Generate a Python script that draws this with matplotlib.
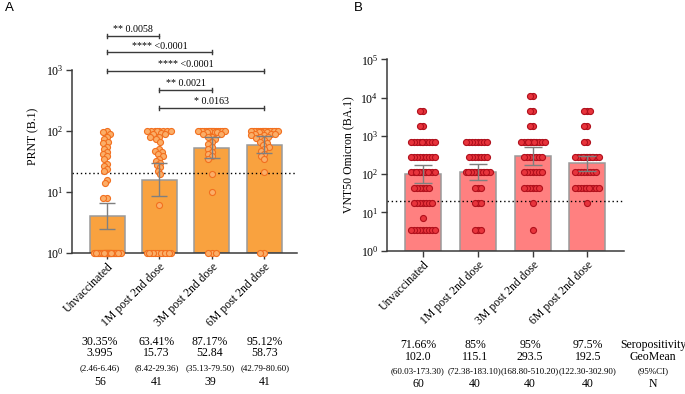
import numpy as np
import matplotlib
matplotlib.use('Agg')
import matplotlib.pyplot as plt

plt.rcParams['font.family'] = ['Liberation Serif', 'DejaVu Serif']
plt.rcParams['mathtext.fontset'] = 'stix'

# ---------------- data ----------------
groups = ['Unvaccinated', '1M post 2nd dose', '3M post 2nd dose', '6M post 2nd dose']

# Panel A: PRNT (B.1) individual titres
prnt_unvacc = [100, 95, 90, 80, 72, 66, 62, 55, 50, 45, 42, 38, 35, 28, 26, 24, 22,
               15.6, 13.7, 8, 8] + [1] * 35
prnt_1m = [100] * 8 + [92, 88, 88, 80, 80, 72, 66, 50, 47, 44, 41, 38, 35, 32, 30, 27,
                       25, 22, 19.5, 6] + [1] * 13
prnt_3m = [100] * 18 + [95] * 3 + [88] * 2 + [80] * 2 + [72, 65, 60, 55, 50, 45, 42, 38, 35,
                                                          19.5, 10, 1, 1, 1]
prnt_6m = [100] * 17 + [95] * 3 + [90] * 3 + [85] * 2 + [80] * 2 + [75, 70, 66, 62, 58, 54, 50,
                                                                     46, 42, 38, 34, 20.8, 1, 1]
prnt_values = [prnt_unvacc, prnt_1m, prnt_3m, prnt_6m]
prnt_geomean = [3.995, 15.73, 52.84, 58.73]
prnt_ci_low = [2.46, 8.42, 35.13, 42.79]
prnt_ci_high = [6.46, 29.36, 79.50, 80.60]
prnt_seropos = ['30.35%', '63.41%', '87.17%', '95.12%']
prnt_geo_txt = ['3.995', '15.73', '52.84', '58.73']
prnt_ci_txt = ['(2.46-6.46)', '(8.42-29.36)', '(35.13-79.50)', '(42.79-80.60)']
prnt_n = ['56', '41', '39', '41']
prnt_pairs = [(0, 1), (0, 2), (0, 3), (1, 2), (1, 3)]
prnt_pvals = ['** 0.0058', '**** <0.0001', '**** <0.0001', '** 0.0021', '* 0.0163']

# Panel B: VNT50 Omicron (BA.1) titre levels and counts per group
vnt_levels = [3.5, 7, 17.8, 44.7, 112, 282, 708, 1778, 4467, 11220]
vnt_counts_unvacc = [9, 1, 7, 6, 14, 9, 10, 2, 2, 0]
vnt_counts_1m = [3, 0, 3, 3, 16, 7, 8, 0, 0, 0]
vnt_counts_3m = [1, 0, 1, 6, 7, 7, 12, 2, 2, 2]
vnt_counts_6m = [0, 0, 1, 11, 8, 13, 2, 2, 3, 0]
vnt_counts = [vnt_counts_unvacc, vnt_counts_1m, vnt_counts_3m, vnt_counts_6m]
vnt_geomean = [102.0, 115.1, 293.5, 192.5]
vnt_ci_low = [60.03, 72.38, 168.80, 122.30]
vnt_ci_high = [173.30, 183.10, 510.20, 302.90]
vnt_seropos = ['71.66%', '85%', '95%', '97.5%']
vnt_geo_txt = ['102.0', '115.1', '293.5', '192.5']
vnt_ci_txt = ['(60.03-173.30)', '(72.38-183.10)', '(168.80-510.20)', '(122.30-302.90)']
vnt_n = ['60', '40', '40', '40']
row_names = ['Seropositivity', 'GeoMean', '(95%CI)', 'N']
cutoff = 20

# ---------------- helpers ----------------
W, H = 685, 394


def swarm_x(ax, xc, vals, dmin, maxhalf):
    vals = np.asarray(vals, float)
    xy = ax.transData.transform(np.column_stack([np.full(len(vals), xc), vals]))
    ypx = xy[:, 1]
    x0 = xy[0, 0]
    cand = np.arange(-maxhalf, maxhalf + 0.01, 0.5)
    cand = cand[np.argsort(np.abs(cand), kind='stable')]
    order = np.argsort(-vals, kind='stable')
    px, py = [], []
    offs = np.zeros(len(vals))
    for i in order:
        y = ypx[i]
        c = 0.0
        if px:
            PX, PY = np.array(px), np.array(py)
            near = np.abs(PY - y) < dmin
            if near.any():
                dx = cand[:, None] - PX[near][None, :]
                dy = (y - PY[near])[None, :]
                dist = np.sqrt(dx ** 2 + dy ** 2).min(axis=1)
                ok = np.where(dist >= dmin)[0]
                c = cand[ok[0]] if len(ok) else cand[np.argmax(dist)]
        offs[i] = c
        px.append(c)
        py.append(y)
    inv = ax.transData.inverted()
    return inv.transform(np.column_stack([x0 + offs, ypx]))[:, 0]


def style_axes(ax, top):
    ax.set_yscale('log')
    for s in ['top', 'right']:
        ax.spines[s].set_visible(False)
    for s in ['left', 'bottom']:
        ax.spines[s].set_color('#3a3a3a')
        ax.spines[s].set_linewidth(1.1)
    ax.spines['left'].set_bounds(1, top)
    ax.tick_params(axis='both', which='major', length=4, width=1.0, color='#3a3a3a',
                   labelsize=8.5, pad=2)
    ax.tick_params(axis='y', which='minor', length=0)
    ax.set_xticks(range(len(groups)))
    ax.set_xticklabels(groups, rotation=45, ha='right', rotation_mode='anchor', fontsize=8.5)
    ax.set_facecolor('none')


fig = plt.figure(figsize=(W / 100, H / 100), dpi=100)

# ---------------- panel A ----------------
axA = fig.add_axes([72 / W, (H - 252.7) / H, (297 - 72) / W, (252.7 - 19.7) / H])
axA.set_xlim(-0.67, 3.63)
axA.set_ylim(1, 10 ** 3.82)
style_axes(axA, 1000)
axA.set_yticks([1, 10, 100, 1000])
x = np.arange(len(groups))
axA.bar(x, np.array(prnt_geomean) - 1, bottom=1, width=0.67, color='#F9A23F',
        edgecolor='#9a9a9a', linewidth=1.1, zorder=1)
axA.axhline(cutoff, color='black', ls=(0, (1, 2)), lw=1.0, zorder=2)
for i, vals in enumerate(prnt_values):
    xs = swarm_x(axA, i, vals, 4.0, 13.5)
    axA.scatter(xs, vals, s=19, facecolor='#FBAE68', edgecolor='#F26F1E', linewidth=0.8,
                zorder=3, clip_on=False)
gm = np.array(prnt_geomean)
axA.errorbar(x, gm, yerr=[gm - np.array(prnt_ci_low), np.array(prnt_ci_high) - gm],
             fmt='none', ecolor='#7f7f7f', elinewidth=1.0, capsize=5.8, capthick=1.0, zorder=4)
axA.set_ylabel('PRNT (B.1)', fontsize=8.5, labelpad=5)

# significance brackets
br_levels = [3.557, 3.285, 2.979, 2.667, 2.367]
tick_h = 0.035
for (a, b), lab, lv in zip(prnt_pairs, prnt_pvals, br_levels):
    y = 10 ** lv
    axA.plot([a, b], [y, y], color='#3a3a3a', lw=1.0, clip_on=False, zorder=5)
    for xx in (a, b):
        axA.plot([xx, xx], [10 ** (lv - tick_h), 10 ** (lv + tick_h)], color='#3a3a3a',
                 lw=1.0, clip_on=False, zorder=5)
    axA.text((a + b) / 2, 10 ** (lv + 0.03), lab, ha='center', va='bottom', fontsize=7.2)

# ---------------- panel B ----------------
axB = fig.add_axes([386.7 / W, (H - 250.7) / H, (624 - 386.7) / W, (250.7 - 59.3) / H])
axB.set_xlim(-0.67, 3.67)
axB.set_ylim(1, 1e5)
style_axes(axB, 1e5)
axB.set_yticks([1, 10, 100, 1000, 1e4, 1e5])
axB.bar(x, np.array(vnt_geomean) - 1, bottom=1, width=0.66, color='#FF8080',
        edgecolor='#9a9a9a', linewidth=1.1, zorder=1)
axB.axhline(cutoff, color='black', ls=(0, (1, 2)), lw=1.0, zorder=2)
for i, cnts in enumerate(vnt_counts):
    vals = np.repeat(vnt_levels, cnts)
    xs = swarm_x(axB, i, vals, 2.7, 13.5)
    axB.scatter(xs, vals, s=19, facecolor='#E8343C', edgecolor='#B0101C', linewidth=0.8,
                zorder=3, clip_on=False)
gmB = np.array(vnt_geomean)
axB.errorbar(x, gmB, yerr=[gmB - np.array(vnt_ci_low), np.array(vnt_ci_high) - gmB],
             fmt='none', ecolor='#7f7f7f', elinewidth=1.0, capsize=6.4, capthick=1.0, zorder=4)
axB.set_ylabel('VNT50 Omicron (BA.1)', fontsize=8.5, labelpad=4)

# ---------------- tables ----------------
colA = [100, 156.7, 210, 265]
rowsA = [341.7, 353.3, 368.3, 381.7]
colB = [418, 475, 530, 588]
colB_lab = 653
rowsB = [345, 357.3, 370.7, 384]
row_sizes = [8.5, 8.5, 6.5, 8.5]

for rows, ry in zip([prnt_seropos, prnt_geo_txt, prnt_ci_txt, prnt_n], range(4)):
    for cx, t in zip(colA, rows):
        fig.text(cx / W, 1 - rowsA[ry] / H, t, ha='center', va='center', fontsize=row_sizes[ry])
for rows, ry in zip([vnt_seropos, vnt_geo_txt, vnt_ci_txt, vnt_n], range(4)):
    for cx, t in zip(colB, rows):
        fig.text(cx / W, 1 - rowsB[ry] / H, t, ha='center', va='center', fontsize=row_sizes[ry])
    fig.text(colB_lab / W, 1 - rowsB[ry] / H, row_names[ry], ha='center', va='center',
             fontsize=row_sizes[ry])

fig.text(5 / W, 1 - 8 / H, 'A', ha='left', va='center', fontsize=9.5, family='Liberation Sans')
fig.text(354 / W, 1 - 8 / H, 'B', ha='left', va='center', fontsize=9.5, family='Liberation Sans')

fig.savefig('out.png', dpi=100)
